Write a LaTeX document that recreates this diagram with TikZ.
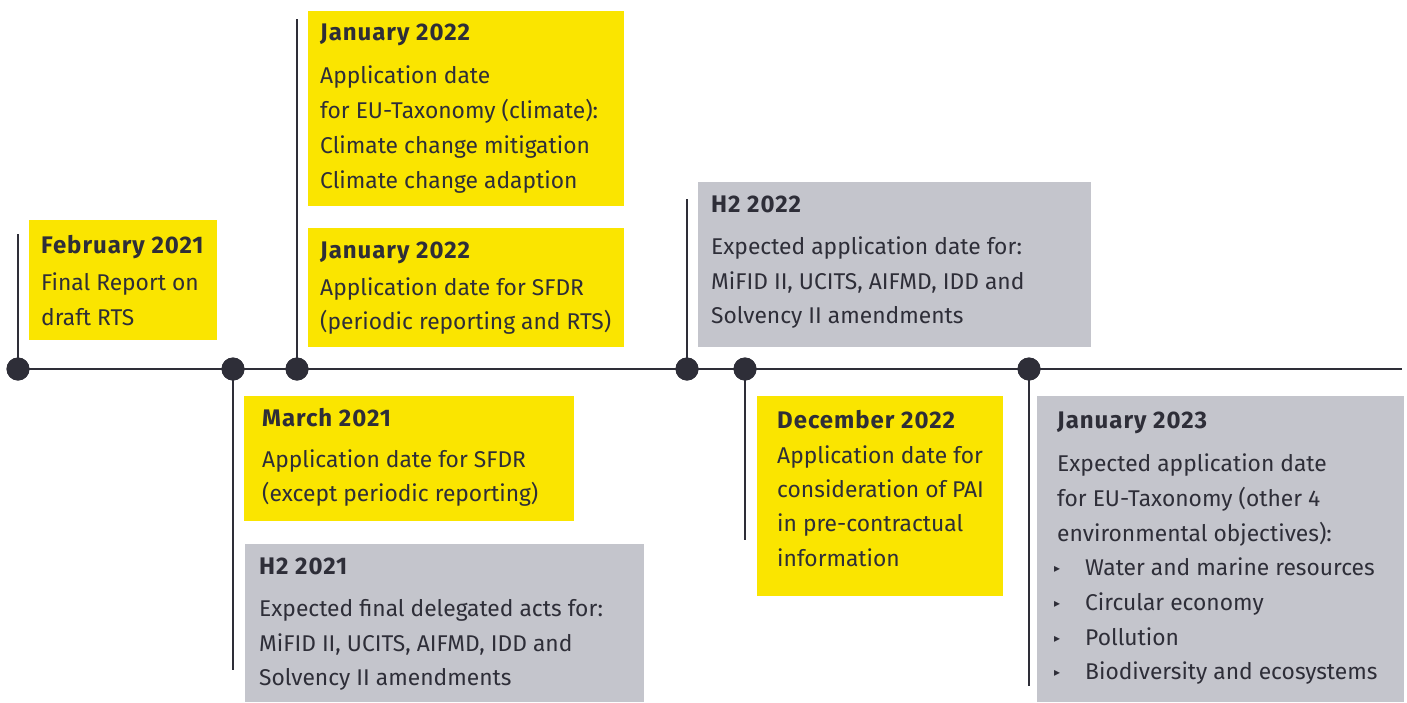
\documentclass[tikz,border=0pt]{standalone}
\usepackage{fontspec}
\setmainfont{Fira Sans}
\newfontfamily\titlefont[LetterSpace=4]{Fira Sans}
\newfontfamily\symfont{DejaVu Sans}
\definecolor{eyyellow}{RGB}{250,229,0}
\definecolor{eygrey}{RGB}{196,197,204}
\definecolor{eydark}{RGB}{46,46,56}
\begin{document}
\begin{tikzpicture}[x=1pt,y=-1pt,
  ybox/.style={fill=eyyellow,draw=none,inner sep=0pt,anchor=north west},
  gbox/.style={fill=eygrey,draw=none,inner sep=0pt,anchor=north west},
  ttl/.style={anchor=base west,inner sep=0pt,text=eydark,font=\titlefont\fontsize{24}{28}\selectfont\bfseries},
  txt/.style={anchor=base west,inner sep=0pt,text=eydark,font=\fontsize{22.8}{27}\selectfont},
  bul/.style={anchor=base west,inner sep=0pt,text=eydark,font=\fontsize{12}{14}\selectfont\symfont},
  dot/.style={circle,fill=eydark,draw=none,minimum size=23pt,inner sep=0pt},
  tl/.style={draw=eydark,line width=2.5pt},
  vl/.style={draw=eydark,line width=2pt}]
\useasboundingbox (0,0) rectangle (1407,702);

% boxes
\node[ybox,minimum width=188pt,minimum height=120pt] (b1) at (29,220) {};
\node[ybox,minimum width=316pt,minimum height=195pt] (b2) at (308,11) {};
\node[ybox,minimum width=316pt,minimum height=119pt] (b3) at (308,228) {};
\node[gbox,minimum width=393pt,minimum height=165pt] (b4) at (698,182) {};
\node[ybox,minimum width=330pt,minimum height=125pt] (b5) at (244,396) {};
\node[gbox,minimum width=399pt,minimum height=158pt] (b6) at (245,544) {};
\node[ybox,minimum width=246pt,minimum height=200pt] (b7) at (757,396) {};
\node[gbox,minimum width=367pt,minimum height=306pt] (b8) at (1037,396) {};

% timeline
\node[dot] (d1) at (18,369) {};
\node[dot] (d2) at (233,369) {};
\node[dot] (d3) at (297,369) {};
\node[dot] (d4) at (687,369) {};
\node[dot] (d5) at (745,369) {};
\node[dot] (d6) at (1029,369) {};
\coordinate (tlend) at (1402,369);
\coordinate (v1) at (18,234);
\coordinate (v2) at (233,670);
\coordinate (v3) at (297,19);
\coordinate (v4) at (687,199);
\coordinate (v5) at (745,540);
\coordinate (v6) at (1029,686);
\draw[tl] (d1.center) -- (tlend);
\draw[vl] (d1.center) -- (v1);
\draw[vl] (d2.center) -- (v2);
\draw[vl] (d3.center) -- (v3);
\draw[vl] (d4.center) -- (v4);
\draw[vl] (d5.center) -- (v5);
\draw[vl] (d6.center) -- (v6);
\node[dot] (e1) at (d1) {};
\node[dot] (e2) at (d2) {};
\node[dot] (e3) at (d3) {};
\node[dot] (e4) at (d4) {};
\node[dot] (e5) at (d5) {};
\node[dot] (e6) at (d6) {};

% texts box 1
\node[ttl] (t1a) at (41,253) {February 2021};
\node[txt] (t1b) at (41,290) {Final Report on};
\node[txt] (t1c) at (41,325) {draft RTS};
% box 2
\node[ttl] (t2a) at (320,40) {January 2022};
\node[txt] (t2b) at (320,83) {Application date};
\node[txt] (t2c) at (320,118) {for EU-Taxonomy (climate):};
\node[txt] (t2d) at (320,153) {Climate change mitigation};
\node[txt] (t2e) at (320,188) {Climate change adaption};
% box 3
\node[ttl] (t3a) at (320,258) {January 2022};
\node[txt] (t3b) at (320,295) {Application date for SFDR};
\node[txt] (t3c) at (320,329) {(periodic reporting and RTS)};
% box 4
\node[ttl] (t4a) at (711,212) {H2 2022};
\node[txt] (t4b) at (711,254) {Expected application date for:};
\node[txt] (t4c) at (711,289) {MiFID II, UCITS, AIFMD, IDD and};
\node[txt] (t4d) at (711,323) {Solvency II amendments};
% box 5
\node[ttl] (t5a) at (262,426) {March 2021};
\node[txt] (t5b) at (262,467) {Application date for SFDR};
\node[txt] (t5c) at (262,501) {(except periodic reporting)};
% box 6
\node[ttl] (t6a) at (259,574) {H2 2021};
\node[txt] (t6b) at (259,616) {Expected final delegated acts for:};
\node[txt] (t6c) at (259,651) {MiFID II, UCITS, AIFMD, IDD and};
\node[txt] (t6d) at (259,685) {Solvency II amendments};
% box 7
\node[ttl] (t7a) at (777,428) {December 2022};
\node[txt] (t7b) at (777,463) {Application date for};
\node[txt] (t7c) at (777,497) {consideration of PAI};
\node[txt] (t7d) at (777,531) {in pre-contractual};
\node[txt] (t7e) at (777,566) {information};
% box 8
\node[ttl] (t8a) at (1057,428) {January 2023};
\node[txt] (t8b) at (1057,471) {Expected application date};
\node[txt] (t8c) at (1057,506) {for EU-Taxonomy (other 4};
\node[txt] (t8d) at (1057,541) {environmental objectives):};
\node[bul] (p1) at (1054,572) {▸};
\node[txt] (t8e) at (1085,575) {Water and marine resources};
\node[bul] (p2) at (1054,607) {▸};
\node[txt] (t8f) at (1085,610) {Circular economy};
\node[bul] (p3) at (1054,642) {▸};
\node[txt] (t8g) at (1085,645) {Pollution};
\node[bul] (p4) at (1054,676) {▸};
\node[txt] (t8h) at (1085,679) {Biodiversity and ecosystems};
\end{tikzpicture}
\end{document}
